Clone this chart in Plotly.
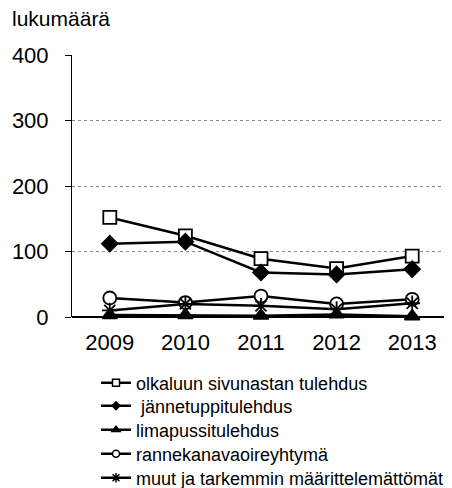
import plotly.graph_objects as go

years = ["2009", "2010", "2011", "2012", "2013"]
olkaluu = [152, 124, 89, 74, 93]
jannetuppi = [112, 115, 68, 65, 73]
limapussi = [3, 3, 2, 4, 1]
rannekanava = [29, 22, 32, 20, 27]
muut = [10, 20, 17, 12, 21]

names = ["olkaluun sivunastan tulehdus", " jännetuppitulehdus", "limapussitulehdus",
         "rannekanavaoireyhtymä", "muut ja tarkemmin määrittelemättömät"]
series = [olkaluu, jannetuppi, limapussi, rannekanava, muut]
symbols = ["square", "diamond", "triangle-up", "circle", "asterisk-open"]
fills = ["white", "black", "black", "white", "black"]
sizes = [13, 12, 13, 13, 13]
leg_sizes = [7, 6, 7, 7, 8]

# page has an 8px body margin; figure is sized/offset to compensate
W, H = 444, 480
L, T = 64, 47
PW, PH = 378, 262
leg_centers = [375, 398, 422, 446, 470]  # figure pixels

fig = go.Figure()
for n, s, sym, f, sz in zip(names, series, symbols, fills, sizes):
    fig.add_trace(go.Scatter(
        x=years, y=s, name=n, mode="lines+markers", showlegend=False, cliponaxis=False,
        line=dict(color="black", width=2.5),
        marker=dict(symbol=sym, size=sz, color=f, line=dict(color="black", width=1.8))))

legends = {}
for i, (n, sym, f, sz) in enumerate(zip(names, symbols, fills, leg_sizes)):
    key = "legend" if i == 0 else f"legend{i + 1}"
    fig.add_trace(go.Scatter(
        x=[None], y=[None], name=n, mode="lines+markers", showlegend=True,
        legend=key,
        line=dict(color="black", width=2.5),
        marker=dict(symbol=sym, size=sz, color=f, line=dict(color="black", width=1.5))))
    legends[key] = dict(x=24 / PW, y=(T + PH - leg_centers[i]) / PH,
                        xanchor="left", yanchor="middle",
                        font=dict(size=18), itemwidth=30,
                        bgcolor="rgba(0,0,0,0)")

fig.update_layout(
    width=W, height=H,
    margin=dict(l=L, r=W - L - PW, t=T, b=H - T - PH, autoexpand=False),
    plot_bgcolor="white", paper_bgcolor="white",
    font=dict(family="Liberation Sans, Arial, sans-serif", color="black"),
    showlegend=True,
    xaxis=dict(type="category", range=[-0.5, 4.5], showgrid=False, showline=False, ticks="",
               tickfont=dict(size=22), zeroline=False, ticklabelstandoff=10),
    yaxis=dict(range=[0, 400], tickvals=[0, 100, 200, 300, 400], ticks="outside",
               ticklen=6, tickcolor="black", showline=True, linecolor="black", linewidth=1,
               showgrid=True, gridcolor="#888888", griddash="dot", gridwidth=1,
               zeroline=True, zerolinecolor="black", zerolinewidth=1.5,
               tickfont=dict(size=22), ticklabelstandoff=12),
    annotations=[dict(text="lukumäärä", xref="paper", yref="paper",
                      x=(2 - L) / PW, y=(T + PH - 10) / PH,
                      showarrow=False, font=dict(size=21), xanchor="left", yanchor="middle")]
)
fig.update_layout(**legends)
fig.write_html("out.html")
